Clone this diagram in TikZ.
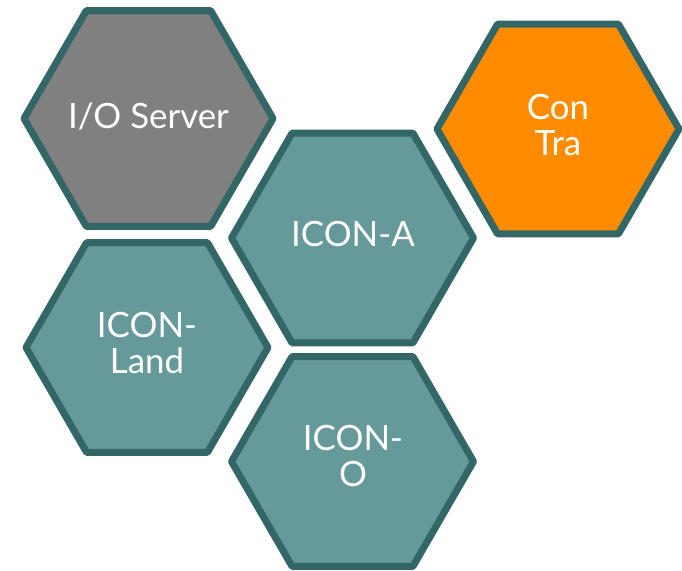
\documentclass[tikz,border=0pt]{standalone}
\usepackage{fontspec}
\setmainfont{Lato}
\usetikzlibrary{shapes.geometric}
\definecolor{hexborder}{RGB}{51,102,102}
\definecolor{hexteal}{RGB}{102,153,153}
\definecolor{hexgrey}{RGB}{128,128,128}
\definecolor{hexorange}{RGB}{255,140,0}
\tikzset{
  hexcell/.style={regular polygon, regular polygon sides=6, draw=hexborder,
    line width=7bp, line join=round, inner sep=0pt, minimum size=242bp,
    text=white, align=center,
    font=\fontsize{35}{37}\selectfont},
  hexlabel/.style={text=white, align=center, font=\fontsize{35}{37}\selectfont, inner sep=0pt},
}
\begin{document}
\begin{tikzpicture}[x=1bp,y=-1bp]
\useasboundingbox (0,0) rectangle (682,571);
\node[hexcell, fill=hexgrey, minimum size=249bp] (io) at (148.5,118.5) {};
\node[hexcell, fill=hexteal] (icona) at (352.5,238) {};
\node[hexcell, fill=hexorange] (contra) at (558,129) {};
\node[hexcell, fill=hexteal] (iconland) at (147,347.5) {};
\node[hexcell, fill=hexteal] (icono) at (352.5,461.5) {};
\node[hexlabel] (tio) at (148.5,116) {I/O Server};
\node[hexlabel] (ticona) at (353,234) {ICON-A};
\node[hexlabel] (tcontra) at (558,125) {Con\\Tra};
\node[hexlabel] (ticonland) at (147,343) {ICON-\\Land};
\node[hexlabel] (ticono) at (353,456) {ICON-\\O};
\end{tikzpicture}
\end{document}
